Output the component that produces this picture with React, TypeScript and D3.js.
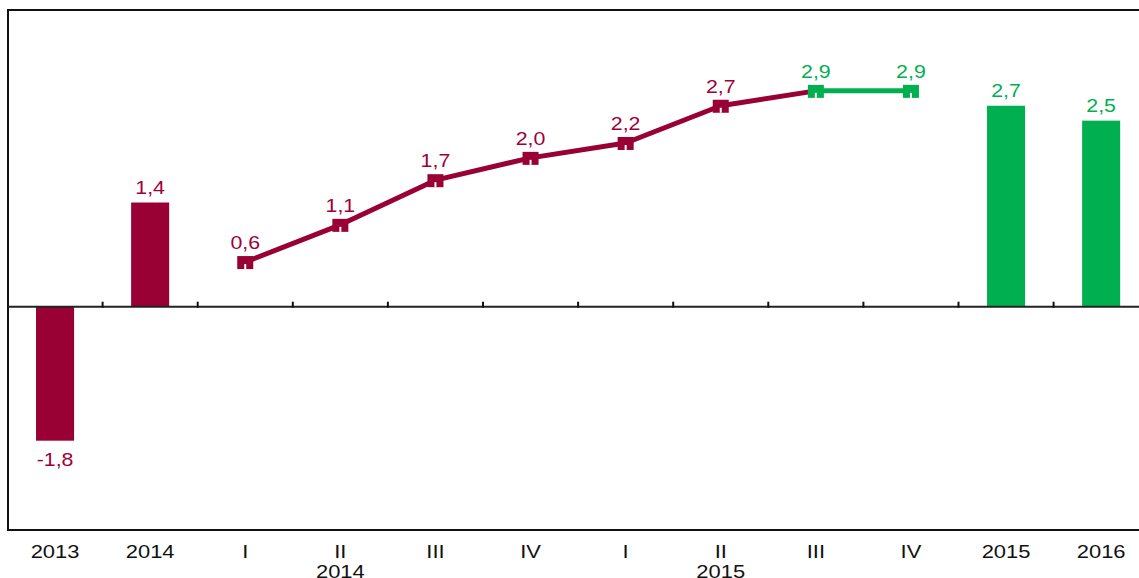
import React from "react";
import * as d3 from "d3";

const categories = ["2013", "2014", "I", "II", "III", "IV", "I", "II", "III", "IV", "2015", "2016"];
const groupLabels = [
  { label: "2014", at: 3 },
  { label: "2015", at: 7 },
];
const barValues: (number | null)[] = [-1.8, 1.4, null, null, null, null, null, null, null, null, 2.7, 2.5];
const barIsForecast = [false, false, false, false, false, false, false, false, false, false, true, true];
const lineValues: (number | null)[] = [null, null, 0.6, 1.1, 1.7, 2.0, 2.2, 2.7, 2.9, 2.9, null, null];
const lineIsForecast = [false, false, false, false, false, false, false, false, true, true, false, false];

const MAROON = "#990033";
const GREEN = "#00B050";
const W = 1139;
const H = 578;

function SText(props: { x: number; y: number; size: number; sx: number; fill: string; children: React.ReactNode }) {
  return (
    <text
      transform={`translate(${props.x},${props.y}) scale(${props.sx},1)`}
      textAnchor="middle"
      fontSize={props.size}
      fill={props.fill}
    >
      {props.children}
    </text>
  );
}

export default function App() {
  const left = 7.5;
  const slot = 95.1;
  const x = d3
    .scaleBand<number>()
    .domain(categories.map((_, i) => i))
    .range([left, left + slot * categories.length])
    .paddingInner(0)
    .paddingOuter(0);
  const y = d3.scaleLinear().domain([-3, 4]).range([530, 9]);
  const cx = (i: number) => (x(i) as number) + x.bandwidth() / 2;
  const barW = x.bandwidth() * 0.4;
  const fmt = (v: number) => d3.format(".1f")(v).replace(".", ",").replace("\u2212", "-");

  const pts = lineValues
    .map((v, i) => ({ v, i }))
    .filter((d) => d.v !== null) as { v: number; i: number }[];
  const line = d3
    .line<{ v: number; i: number }>()
    .x((d) => cx(d.i))
    .y((d) => y(d.v));

  const segments: { pts: { v: number; i: number }[]; color: string }[] = [];
  for (let k = 0; k < pts.length - 1; k++) {
    const a = pts[k];
    const b = pts[k + 1];
    const color = lineIsForecast[a.i] && lineIsForecast[b.i] ? GREEN : MAROON;
    segments.push({ pts: [a, b], color });
  }

  const font = "'Liberation Sans', Arial, sans-serif";

  return (
    <svg
      width={W}
      height={H}
      style={{ position: "absolute", left: 0, top: 0, background: "#fff" }}
      fontFamily={font}
    >
      {/* frame */}
      <line x1={8} x2={W} y1={10} y2={10} stroke="#111" strokeWidth={2} />
      <line x1={8} x2={8} y1={9} y2={531} stroke="#111" strokeWidth={2} />
      <line x1={7} x2={W} y1={530} y2={530} stroke="#111" strokeWidth={2} />

      {/* bars */}
      {barValues.map((v, i) =>
        v === null ? null : (
          <g key={"b" + i}>
            <rect
              x={cx(i) - barW / 2}
              y={Math.min(y(v), y(0))}
              width={barW}
              height={Math.abs(y(v) - y(0))}
              fill={barIsForecast[i] ? GREEN : MAROON}
            />
            <SText
              x={cx(i)}
              y={v >= 0 ? y(v) - 9 : y(v) + 25}
              size={17.5}
              sx={1.22}
              fill={barIsForecast[i] ? GREEN : "#A0003A"}
            >
              {fmt(v)}
            </SText>
          </g>
        )
      )}

      {/* zero axis */}
      <line x1={8} x2={W} y1={y(0)} y2={y(0)} stroke="#222" strokeWidth={2} />
      {categories.slice(1).map((_, k) => {
        const xx = x(k + 1) as number;
        return <line key={"t" + k} x1={xx} x2={xx} y1={y(0) - 5} y2={y(0) + 1} stroke="#111" strokeWidth={2} />;
      })}

      {/* line */}
      {segments.map((s, k) => (
        <path key={"s" + k} d={line(s.pts) || ""} fill="none" stroke={s.color} strokeWidth={5} />
      ))}
      {pts.map((d) => {
        const c = lineIsForecast[d.i] ? GREEN : MAROON;
        const px = cx(d.i);
        const py = y(d.v);
        return (
          <g key={"m" + d.i}>
            <rect x={px - 8} y={py - 6} width={16} height={13} fill={c} />
            <rect x={px - 1} y={py + 2} width={2} height={5} fill="#fff" />
            <SText
              x={px}
              y={py - 13}
              size={17.5}
              sx={1.22}
              fill={lineIsForecast[d.i] ? GREEN : "#A0003A"}
            >
              {fmt(d.v)}
            </SText>
          </g>
        );
      })}

      {/* category labels */}
      {categories.map((c, i) => (
        <SText key={"c" + i} x={cx(i)} y={558} size={18} sx={1.22} fill="#111">
          {c}
        </SText>
      ))}
      {groupLabels.map((g) => (
        <SText key={g.label} x={cx(g.at)} y={578} size={18} sx={1.22} fill="#111">
          {g.label}
        </SText>
      ))}
    </svg>
  );
}
